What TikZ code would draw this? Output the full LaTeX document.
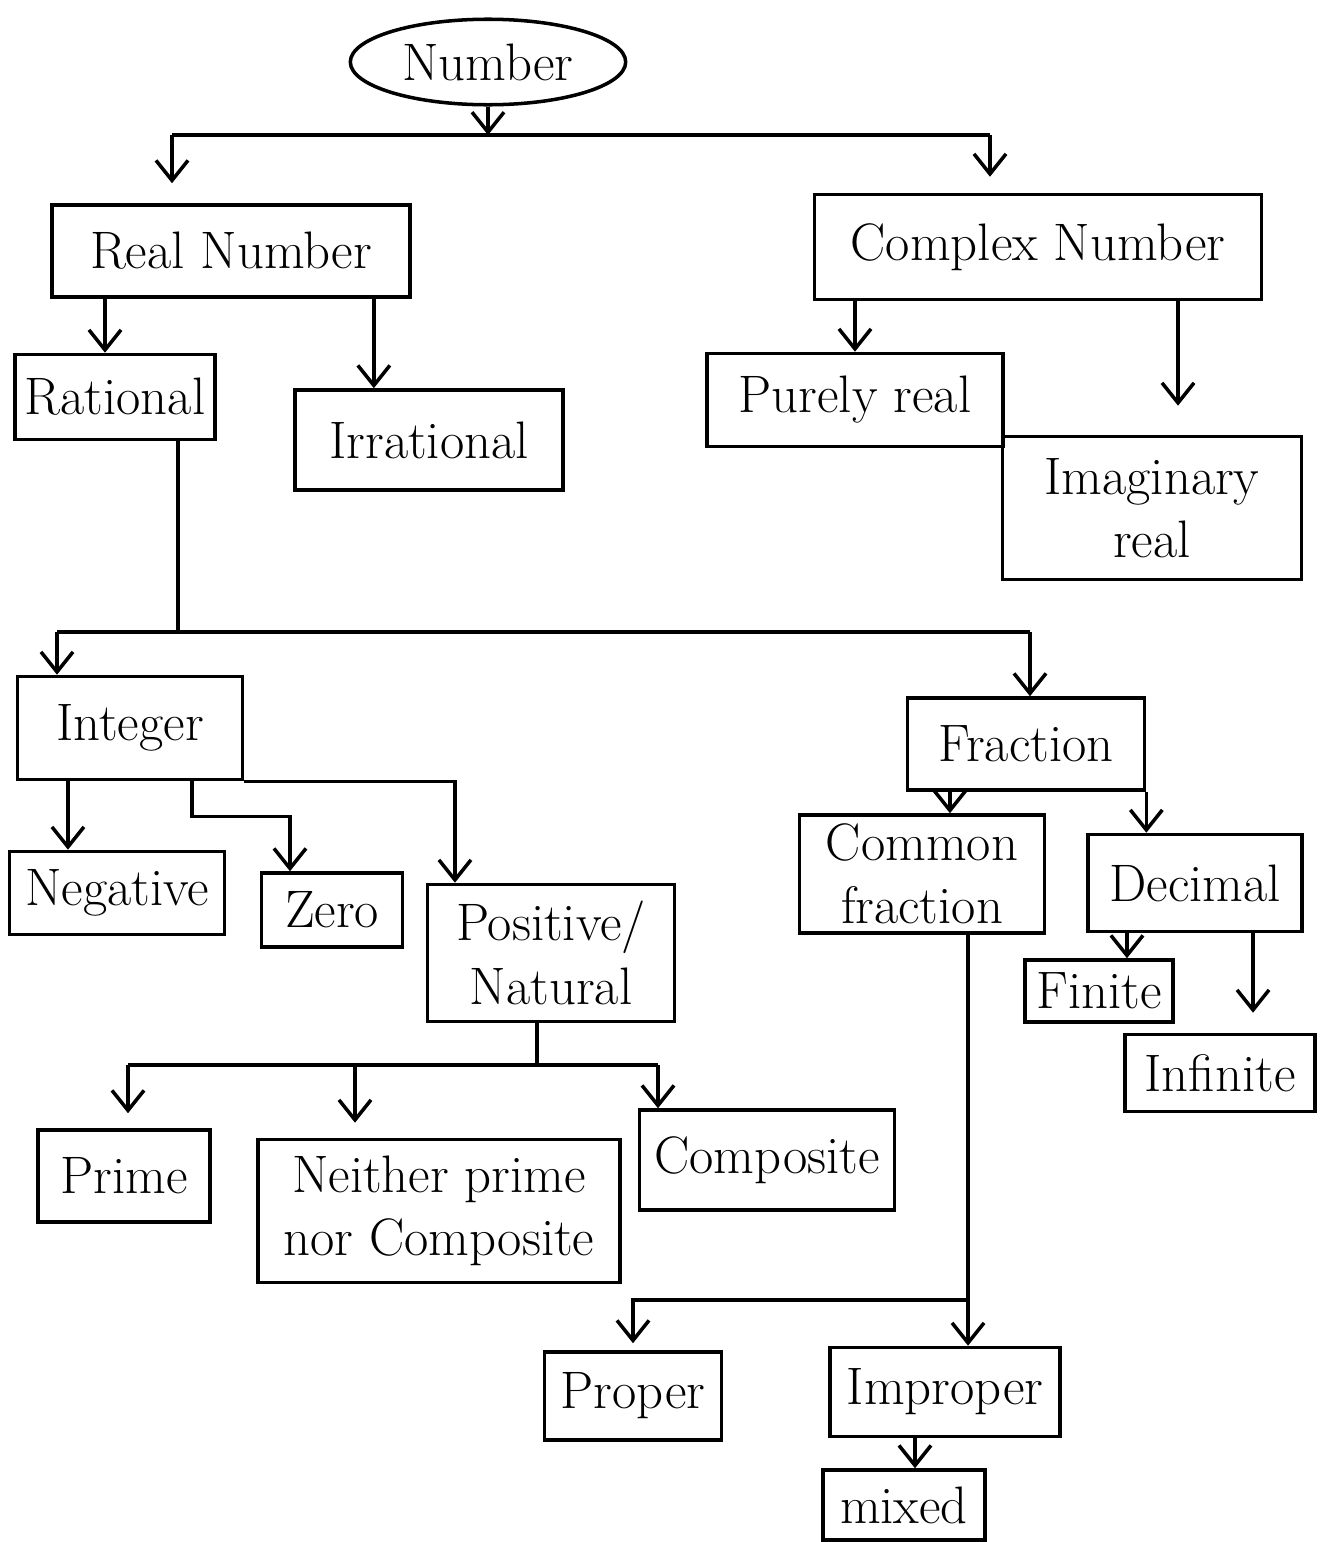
\documentclass[tikz,border=0pt]{standalone}
\usepackage{tikz}
\usetikzlibrary{positioning,arrows.meta,shapes.geometric}

\begin{document}
\begin{tikzpicture}[
    x=0.01cm, y=-0.01cm,
    font=\fontsize{15}{18}\selectfont,
    box/.style={rectangle, draw, line width=1pt, align=center, inner sep=2pt},
    topnode/.style={ellipse, draw, line width=1pt, minimum width=2.7cm, minimum height=0.78cm},
    arrow/.style={-{Straight Barb[length=2mm,width=3.2mm]}, line width=1pt},
    link/.style={line width=1pt}
]
\useasboundingbox (0,0) rectangle (1327,1542);

% Top: number and its two kinds
\node[topnode] (num) at (488,62) {Number};
\node[box, minimum width=3.58cm, minimum height=0.92cm] (real) at (231,251) {Real Number};
\node[box, minimum width=4.47cm, minimum height=1.05cm] (complex) at (1038,247) {Complex Number};

% Row 2: real and complex parts
\node[box, minimum width=2.0cm, minimum height=0.85cm] (rat) at (115,397) {Rational};
\node[box, minimum width=2.68cm, minimum height=1.0cm] (irr) at (429,440) {Irrational};
\node[box, minimum width=2.96cm, minimum height=0.93cm] (pure) at (855,400) {Purely real};
\node[box, minimum width=2.99cm, minimum height=1.43cm] (imag) at (1152,508) {Imaginary\\real};

% Row 3: rational numbers
\node[box, minimum width=2.25cm, minimum height=1.03cm] (int) at (130,728) {Integer};
\node[box, minimum width=2.37cm, minimum height=0.92cm] (frac) at (1026,744) {Fraction};

% Row 4: integers and fractions
\node[box, minimum width=2.15cm, minimum height=0.83cm] (neg) at (117,893) {Negative};
\node[box, minimum width=1.41cm, minimum height=0.74cm] (zero) at (332,910) {Zero};
\node[box, minimum width=2.47cm, minimum height=1.37cm] (pos) at (551,953) {Positive/\\Natural};
\node[box, minimum width=2.45cm, minimum height=1.18cm] (comf) at (922,874) {Common\\fraction};
\node[box, minimum width=2.14cm, minimum height=0.97cm] (dec) at (1195,883) {Decimal};
\node[box, minimum width=1.48cm, minimum height=0.62cm] (fin) at (1099,991) {Finite};
\node[box, minimum width=1.9cm, minimum height=0.77cm] (inf) at (1220,1073) {Infinite};

% Row 5: natural numbers
\node[box, minimum width=1.72cm, minimum height=0.92cm] (prime) at (124,1176) {Prime};
\node[box, minimum width=3.62cm, minimum height=1.43cm] (neither) at (439,1211) {Neither prime\\nor Composite};
\node[box, minimum width=2.55cm, minimum height=1.0cm] (comp) at (767,1160) {Composite};

% Row 6: common fractions
\node[box, minimum width=1.77cm, minimum height=0.88cm] (proper) at (633,1396) {Proper};
\node[box, minimum width=2.3cm, minimum height=0.89cm] (improper) at (945,1392) {Improper};
\node[box, minimum width=1.62cm, minimum height=0.70cm] (mixed) at (904,1505) {mixed};

% Bars
\coordinate (nbarL) at (172,135);
\coordinate (nbarR) at (990,135);
\coordinate (rbarL) at (57,632);
\coordinate (rbarR) at (1030,632);
\coordinate (pbarL) at (128,1065);
\coordinate (pbarM) at (355,1065);
\coordinate (pbarR) at (658,1065);
\coordinate (cbar) at (968,1300);

% Number
\draw[arrow] (num.south) -- (num.south |- nbarL);
\draw[link] (nbarL) -- (nbarR);
\draw[arrow, shorten >=2mm] (nbarL) -- (nbarL |- real.north);
\draw[arrow, shorten >=1.6mm] (nbarR) -- (nbarR |- complex.north);

% Real and complex
\draw[arrow] ([xshift=-0.1cm]rat.north |- real.south) -- ([xshift=-0.1cm]rat.north);
\draw[arrow] ([xshift=-0.38cm]real.south east) -- ([xshift=-0.38cm]real.south east |- irr.north);
\draw[arrow] (pure.north |- complex.south) -- (pure.north);
\draw[arrow, shorten >=2.9mm] ([xshift=0.26cm]imag.north |- complex.south) -- ([xshift=0.26cm]imag.north);

% Rational
\draw[link] ([xshift=0.63cm]rat.south) -- ([xshift=0.63cm]rat.south |- rbarL);
\draw[link] (rbarL) -- (rbarR);
\draw[arrow] (rbarL) -- (rbarL |- int.north);
\draw[arrow] (rbarR) -- (rbarR |- frac.north);

% Integer
\draw[arrow] ([xshift=-0.62cm]int.south) -- ([xshift=-0.62cm]int.south |- neg.north);
\draw[arrow] ([xshift=0.62cm]int.south) -- ++(0,35) -| ([xshift=-0.42cm]zero.north);
\draw[arrow] (int.south east) -| ([xshift=-0.96cm]pos.north);

% Positive / natural
\draw[link] ([xshift=-0.14cm]pos.south) -- ([xshift=-0.14cm]pos.south |- pbarL);
\draw[link] (pbarL) -- (pbarR);
\draw[arrow, shorten >=1.5mm] (pbarL) -- (pbarL |- prime.north);
\draw[arrow, shorten >=1.5mm] (pbarM) -- (pbarM |- neither.north);
\draw[arrow] (pbarR) -- (pbarR |- comp.north);

% Fraction
\draw[arrow] ([xshift=-0.76cm]frac.south) -- ([xshift=-0.76cm]frac.south |- comf.north);
\draw[arrow] (frac.south east) -- (frac.south east |- dec.north);
\draw[arrow] ([xshift=-0.68cm]dec.south) -- ([xshift=-0.68cm]dec.south |- fin.north);
\draw[arrow, shorten >=2mm] ([xshift=0.58cm]dec.south) -- ([xshift=0.58cm]dec.south |- inf.north);

% Common fraction
\draw[arrow] ([xshift=0.46cm]comf.south) -- ([xshift=0.46cm]comf.south |- improper.north);
\draw[arrow, shorten >=0.7mm] (cbar) -| (proper.north);
\draw[arrow] ([xshift=-0.3cm]improper.south) -- ([xshift=-0.3cm]improper.south |- mixed.north);

\end{tikzpicture}
\end{document}
